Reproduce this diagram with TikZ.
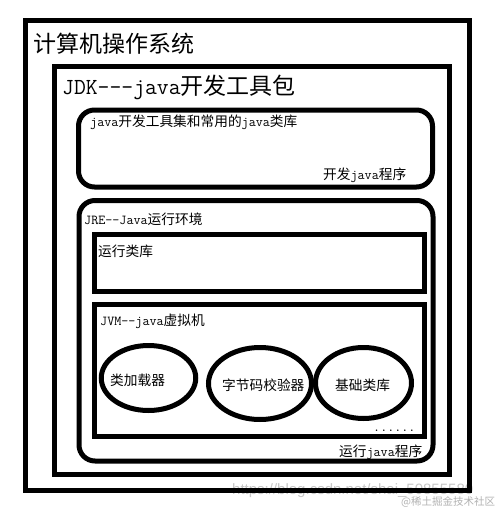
\documentclass[tikz,border=0pt]{standalone}
\usepackage{fontspec}
\setmainfont{Noto Sans CJK SC}
\newfontfamily\wmfont{Liberation Sans}
\usetikzlibrary{shapes.geometric}
\tikzset{
  frame/.style={draw=black, line width=5pt, rectangle, inner sep=0pt},
  roundframe/.style={frame, rounded corners=16pt},
  oval/.style={draw=black, line width=5pt, ellipse, inner sep=0pt},
  lbl/.style={anchor=west, inner sep=0pt, font=\fontsize{13.7pt}{16pt}\selectfont},
  big/.style={anchor=west, inner sep=0pt, font=\fontsize{23pt}{26pt}\selectfont},
  wm/.style={inner sep=0pt, text=black!22, font=\wmfont\fontsize{15pt}{17pt}\selectfont},
}
\newcommand\jv[1]{{\ttfamily #1}}
\begin{document}
\begin{tikzpicture}[x=1pt,y=-1pt]
\useasboundingbox (0,0) rectangle (501,512);
\fill[white] (0,0) rectangle (501,512);
% watermark (under the frame)
\node[wm, anchor=base west] (wm1) at (232,494) {https://blog.csdn.net/shai\_50855580};
\node[inner sep=0pt, text=black!30, font=\fontsize{10.5pt}{12pt}\selectfont, anchor=west] (wm2) at (401,502) {@稀土掘金技术社区};
% frames
\node[frame, minimum width=444.5pt, minimum height=470pt] (os) at (247.25,255.5) {};
\node[frame, minimum width=395pt, minimum height=408pt] (jdk) at (252,270) {};
\node[roundframe, minimum width=354pt, minimum height=77pt] (dev) at (255.5,148.5) {};
\node[roundframe, minimum width=354pt, minimum height=260.5pt] (jre) at (256,330.75) {};
\node[frame, minimum width=330pt, minimum height=57pt] (lib) at (259.5,263) {};
\node[frame, minimum width=329.5pt, minimum height=131.5pt] (jvm) at (259.25,370.25) {};
\node[oval, minimum width=94.5pt, minimum height=65pt] (e1) at (148.5,378) {};
\node[oval, minimum width=103pt, minimum height=72pt] (e2) at (260,383.5) {};
\node[oval, minimum width=96pt, minimum height=71pt] (e3) at (363.5,383) {};
% texts
\node[big] (tos) at (33,44) {计算机操作系统};
\node[big] (tjdk) at (62,87) {\jv{JDK---java}开发工具包};
\node[lbl] (tdev) at (90,122.5) {\jv{java}开发工具集和常用的\jv{java}类库};
\node[lbl] (tdevp) at (323,175) {开发\jv{java}程序};
\node[lbl] (tjre) at (84,219) {\jv{JRE--Java}运行环境};
\node[lbl] (tlib) at (98,251) {运行类库};
\node[lbl] (tjvm) at (100,321) {\jv{JVM--java}虚拟机};
\node[lbl] (te1) at (110,380) {类加载器};
\node[lbl] (te2) at (222,385) {字节码校验器};
\node[lbl] (te3) at (335,385) {基础类库};
\node[lbl, anchor=base west] (tdots) at (373,431) {\jv{......}};
\node[lbl] (trun) at (339,452) {运行\jv{java}程序};
\end{tikzpicture}
\end{document}
